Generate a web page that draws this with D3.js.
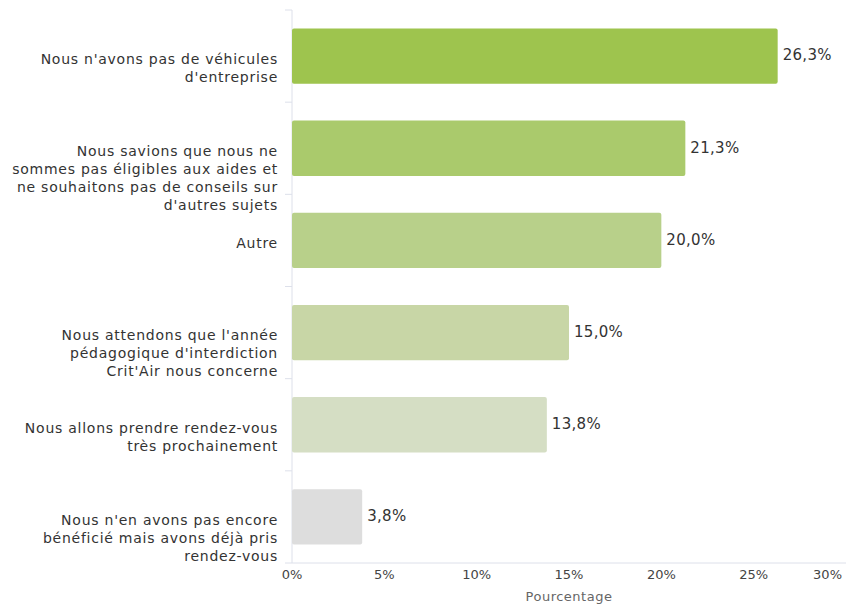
<!DOCTYPE html>
<html><head><meta charset="utf-8">
<script src="https://cdn.jsdelivr.net/npm/d3@7"></script>
<style>body{margin:0;background:#fff}svg{display:block}</style>
</head><body>
<script>
const categories = [
  ["Nous n'avons pas de véhicules", "d'entreprise"],
  ["Nous savions que nous ne", "sommes pas éligibles aux aides et", "ne souhaitons pas de conseils sur", "d'autres sujets"],
  ["Autre"],
  ["Nous attendons que l'année", "pédagogique d'interdiction", "Crit'Air nous concerne"],
  ["Nous allons prendre rendez-vous", "très prochainement"],
  ["Nous n'en avons pas encore", "bénéficié mais avons déjà pris", "rendez-vous"]
];
const values = [26.3, 21.3, 20.0, 15.0, 13.8, 3.8];
const colors = ["#9ec44e", "#aaca6c", "#b8d08a", "#c8d6a6", "#d5dec4", "#dddddd"];
const xTicks = [0, 5, 10, 15, 20, 25, 30];
const xTitle = "Pourcentage";

const W = 850, H = 605;
const m = {left: 292, right: 4, top: 10, bottom: 42};
const font = "'DejaVu Sans', sans-serif";
const svg = d3.select("body").append("svg").attr("width", W).attr("height", H);

const x = d3.scaleLinear().domain([0, 30]).range([m.left, W - m.right]);
const y = d3.scaleBand().domain(d3.range(values.length)).range([m.top, H - m.bottom]).paddingInner(0.4).paddingOuter(0.2);

const axisColor = "#dde0ea";
svg.append("line").attr("x1", x(0)).attr("x2", x(0)).attr("y1", m.top).attr("y2", H - m.bottom).attr("stroke", axisColor);
svg.append("line").attr("x1", x(0)).attr("x2", x(30)).attr("y1", H - m.bottom).attr("y2", H - m.bottom).attr("stroke", axisColor);
const bounds = d3.range(values.length + 1).map(i => m.top + i * (H - m.bottom - m.top) / values.length);
svg.selectAll(".yt").data(bounds).join("line")
  .attr("x1", x(0) - 7).attr("x2", x(0)).attr("y1", d => d).attr("y2", d => d).attr("stroke", axisColor);

svg.selectAll(".bar").data(values).join("rect")
  .attr("x", x(0)).attr("y", (d, i) => y(i)).attr("width", d => x(d) - x(0)).attr("height", y.bandwidth())
  .attr("rx", 2).attr("fill", (d, i) => colors[i]);

svg.selectAll(".val").data(values).join("text")
  .attr("x", d => x(d) + 5).attr("y", (d, i) => y(i) + y.bandwidth() / 2 - 1).attr("dy", "0.35em")
  .attr("font-family", font).attr("font-size", 15).attr("letter-spacing", 0.3).attr("fill", "#333")
  .text(d => d.toFixed(1).replace(".", ",") + "%");

const cat = svg.selectAll(".cat").data(categories).join("text")
  .attr("x", x(0) - 15).attr("y", (d, i) => y(i) + y.bandwidth() / 2 + 3).attr("dy", "0.35em")
  .attr("text-anchor", "end").attr("font-family", font).attr("font-size", 14).attr("letter-spacing", 0.75).attr("fill", "#333");
cat.each(function(lines) {
  const t = d3.select(this);
  const yy = +t.attr("y");
  lines.forEach((l, j) => t.append("tspan").attr("x", x(0) - 14).attr("y", yy + j * 18).attr("dy", "0.35em").text(l));
});

svg.selectAll(".xt").data(xTicks).join("text")
  .attr("x", d => d === 30 ? W - 8 : x(d)).attr("y", H - m.bottom + 16)
  .attr("text-anchor", d => d === 30 ? "end" : "middle")
  .attr("font-family", font).attr("font-size", 13).attr("fill", "#444")
  .text(d => d + "%");

svg.append("text").attr("x", (x(0) + x(30)) / 2).attr("y", H - 4)
  .attr("text-anchor", "middle").attr("font-family", font).attr("font-size", 13).attr("letter-spacing", 0.5).attr("fill", "#666").text(xTitle);
</script>
</body></html>
